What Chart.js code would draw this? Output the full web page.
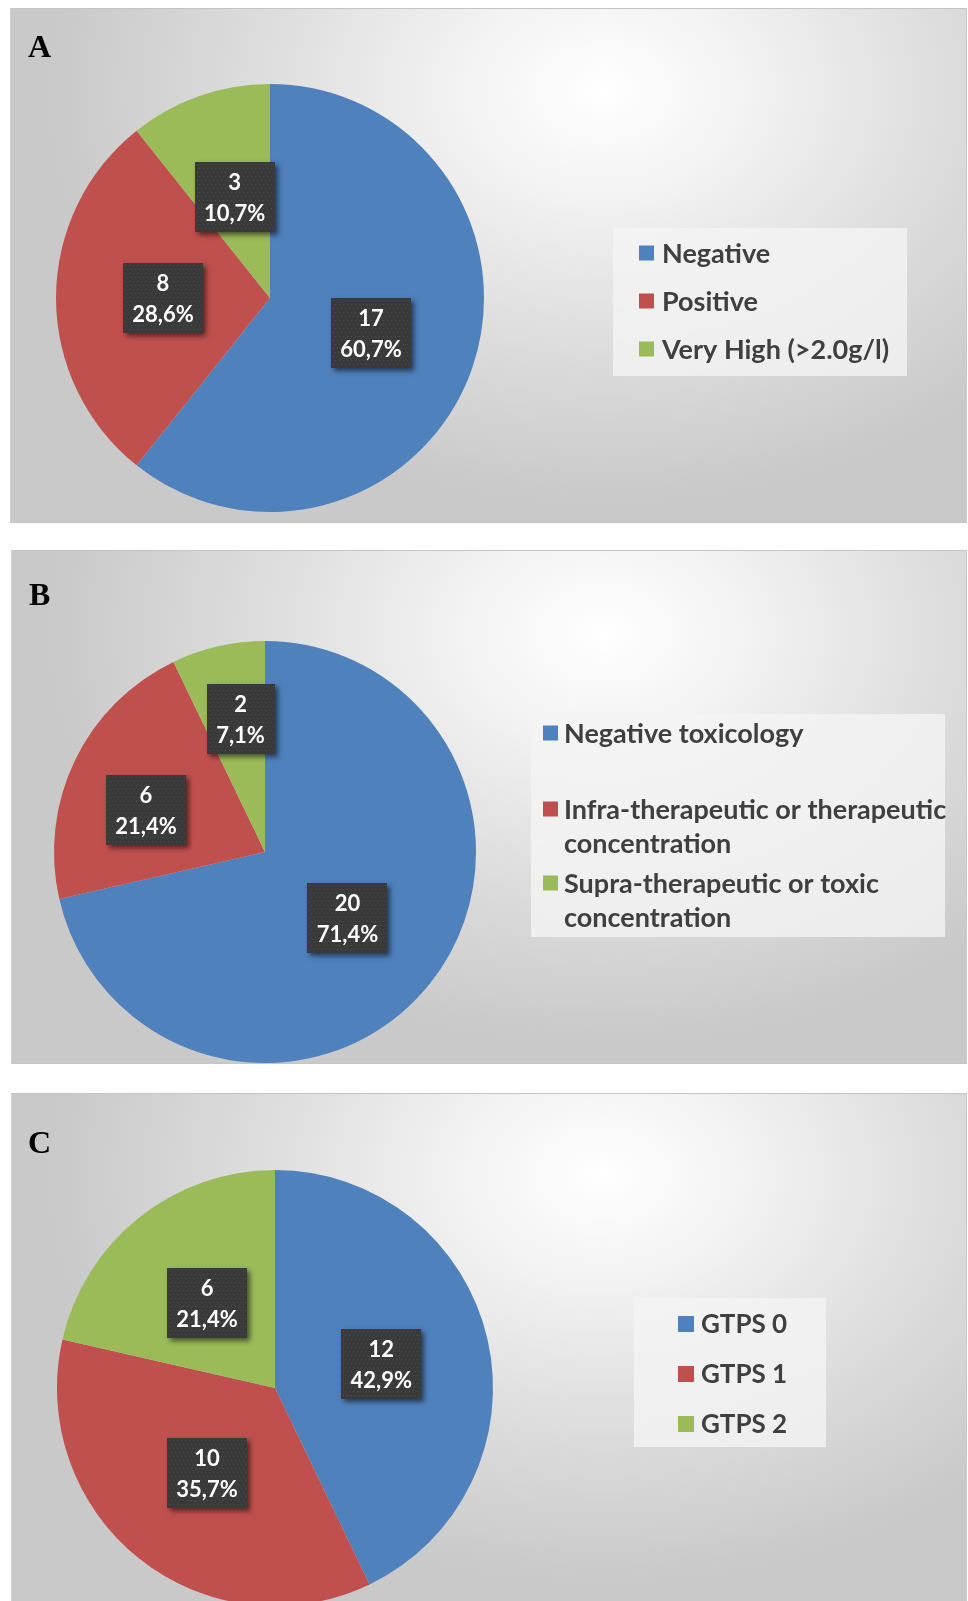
<!DOCTYPE html>
<html>
<head>
<meta charset="utf-8">
<script src="https://cdn.jsdelivr.net/npm/chart.js@4.4.1/dist/chart.umd.min.js"></script>
<style>
    body {
        margin: 0;
        background: #ffffff;
        width: 968px;
        height: 1601px;
        overflow: hidden;
        position: relative;
    }
    .panel {
        position: absolute;
        border-top: 1px solid #c4c4c4;
        border-right: 1px solid #c8c8c8;
        border-left: 1px solid #d0d0d0;
        box-sizing: border-box;
        background: radial-gradient(ellipse 58% 80% at 62% 16%, #ffffff 0%, #f3f3f3 25%, #dddddd 62%, #c9c9c9 100%);
    }
    .panel canvas {
        position: absolute;
        left: 0;
        top: 0;
    }
</style>
</head>
<body>
<div class="panel" style="left:10px;top:8px;width:957px;height:515px;border-bottom:1px solid #c4c4c4"><canvas id="chartA" width="956" height="514"></canvas></div>
<div class="panel" style="left:11px;top:550px;width:956px;height:514px;border-bottom:1px solid #c4c4c4"><canvas id="chartB" width="955" height="513"></canvas></div>
<div class="panel" style="left:11px;top:1093px;width:956px;height:508px"><canvas id="chartC" width="955" height="508"></canvas></div>
<script>
const sliceColors = ['#4f81bd', '#c0504d', '#9bbb59']

const labelsA = ['Negative', 'Positive', 'Very High (>2.0g/l)']
const valuesA = [17, 8, 3]

const labelsB = [
    'Negative toxicology',
    ['Infra-therapeutic or therapeutic', 'concentration'],
    ['Supra-therapeutic or toxic', 'concentration'],
]
const valuesB = [20, 6, 2]

const labelsC = ['GTPS 0', 'GTPS 1', 'GTPS 2']
const valuesC = [12, 10, 6]

function formatPercent(value, total) {
    return (value / total * 100).toFixed(1).replace('.', ',') + '%'
}

// dark boxes with count and percent, placed at each arc's center point
const boxLabels = {
    id: 'boxLabels',
    afterDatasetsDraw(chart, args, opts) {
        const ctx = chart.ctx
        const ds = chart.data.datasets[0]
        const total = ds.data.reduce((a, b) => a + b, 0)
        const meta = chart.getDatasetMeta(0)
        const shifts = opts.shifts || []
        ctx.save()
        ctx.font = 'bold 22px Lato'
        meta.data.forEach((arc, i) => {
            const pos = arc.getCenterPoint()
            const shift = shifts[i] || [0, 0]
            const cx = pos.x + shift[0]
            const cy = pos.y + shift[1]
            const lines = [String(ds.data[i]), formatPercent(ds.data[i], total)]
            const tw = Math.max(...lines.map((l) => ctx.measureText(l).width))
            const w = Math.round(tw + 19)
            const h = 70
            const x = Math.round(cx - w / 2)
            const y = Math.round(cy - h / 2)

            ctx.save()
            ctx.shadowColor = 'rgba(0,0,0,0.55)'
            ctx.shadowBlur = 5
            ctx.shadowOffsetX = 3
            ctx.shadowOffsetY = 3
            ctx.fillStyle = '#3a3a3a'
            ctx.fillRect(x, y, w, h)
            ctx.restore()

            ctx.fillStyle = '#4e4e4e'
            for (let dy = 2; dy < h; dy += 4) {
                for (let dx = (dy % 8 === 2 ? 2 : 4); dx < w; dx += 4) {
                    ctx.fillRect(x + dx, y + dy, 1, 1)
                }
            }

            ctx.fillStyle = '#ffffff'
            ctx.textAlign = 'center'
            ctx.textBaseline = 'middle'
            ctx.fillText(lines[0], cx, cy - 14)
            ctx.fillText(lines[1], cx, cy + 17)
        })
        ctx.restore()
    },
}

// shaded legend box and panel letter
const boxLegend = {
    id: 'boxLegend',
    afterDraw(chart, args, opts) {
        const ctx = chart.ctx
        const colors = chart.data.datasets[0].backgroundColor
        ctx.save()
        ctx.fillStyle = 'rgba(244,244,244,0.8)'
        ctx.fillRect(opts.x, opts.y, opts.w, opts.h)

        ctx.font = 'bold ' + opts.fontSize + 'px Lato'
        ctx.textBaseline = 'middle'
        ctx.textAlign = 'left'
        chart.data.labels.forEach((label, i) => {
            const lines = Array.isArray(label) ? label : [label]
            const rowY = opts.rows[i]
            ctx.fillStyle = colors[i]
            ctx.fillRect(opts.markerX, rowY - opts.marker / 2, opts.marker, opts.marker)
            ctx.fillStyle = '#3f3f3f'
            lines.forEach((line, j) => {
                ctx.fillText(line, opts.textX, rowY + 1 + j * opts.lineGap)
            })
        })

        ctx.fillStyle = '#000000'
        ctx.font = 'bold 32px "Liberation Serif"'
        ctx.textBaseline = 'alphabetic'
        ctx.fillText(opts.letter, opts.letterX, opts.letterY)
        ctx.restore()
    },
}

function makePie(canvasId, labels, values, radius, padding, legendOpts, labelOpts) {
    const ctx = document.getElementById(canvasId).getContext('2d')
    return new Chart(ctx, {
        type: 'pie',
        data: {
            labels: labels,
            datasets: [
                {
                    data: values,
                    backgroundColor: sliceColors,
                    borderWidth: 0,
                    clip: false,
                },
            ],
        },
        options: {
            responsive: false,
            animation: false,
            devicePixelRatio: 1,
            radius: radius,
            layout: {
                padding: padding,
            },
            plugins: {
                legend: { display: false },
                tooltip: { enabled: false },
                boxLegend: legendOpts,
                boxLabels: labelOpts || {},
            },
        },
        plugins: [boxLabels, boxLegend],
    })
}

makePie('chartA', labelsA, valuesA, 214, { left: 45, top: 75, right: 483, bottom: 11 }, {
    x: 602, y: 219, w: 294, h: 148,
    markerX: 628, marker: 15, textX: 651, fontSize: 27,
    rows: [244, 292, 340], lineGap: 34,
    letter: 'A', letterX: 17, letterY: 48,
})

makePie('chartB', labelsB, valuesB, 211, { left: 42, top: 90, right: 491, bottom: 1 }, {
    x: 519, y: 163, w: 414, h: 223,
    markerX: 531, marker: 15, textX: 552, fontSize: 27,
    rows: [182, 258, 332], lineGap: 34,
    letter: 'B', letterX: 17, letterY: 54,
}, {
    // the two small slices have their boxes pushed outward
    shifts: [[0, 0], [-24, 4], [-1, -30]],
})

makePie('chartC', labelsC, valuesC, 218, { left: 63, top: 94, right: 492, bottom: 14 }, {
    x: 622, y: 204, w: 192, h: 149,
    markerX: 666, marker: 16, textX: 689, fontSize: 26,
    rows: [230, 280, 330], lineGap: 34,
    letter: 'C', letterX: 16, letterY: 59,
})
</script>
</body>
</html>
